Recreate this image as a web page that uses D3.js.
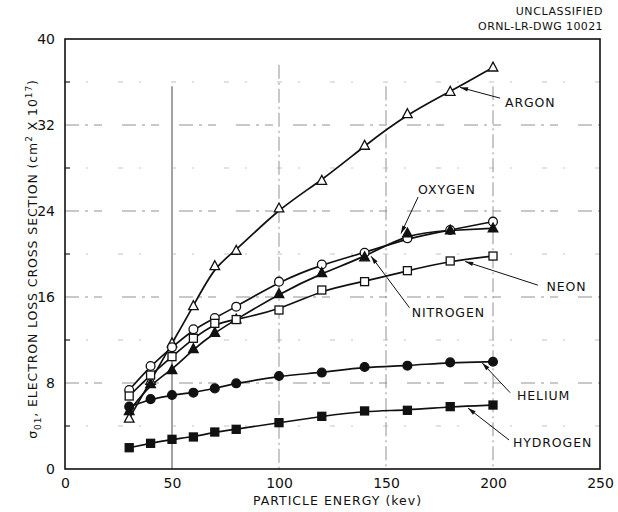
<!DOCTYPE html>
<html>
<head>
<meta charset="utf-8">
<script src="https://cdn.jsdelivr.net/npm/d3@7"></script>
<style>
  html, body { margin: 0; padding: 0; background: #fff; }
  svg { display: block; }
  text { font-family: "DejaVu Sans", sans-serif; fill: #111; }
</style>
</head>
<body>
<svg id="chart" width="618" height="512"></svg>
<script>
// Particle energy (keV) at which each cross section was measured
const energy = [30, 40, 50, 60, 70, 80, 100, 120, 140, 160, 180, 200];

// Electron loss cross sections, cm^2 x 10^17
const argon    = [4.7, 8.2, 11.7, 15.16, 18.88, 20.31, 24.25, 26.82, 30.08, 33.02, 35.1, 37.36];
const oxygen   = [7.35, 9.58, 11.32, 12.99, 14.05, 15.1, 17.43, 19.02, 20.12, 21.46, 22.23, 23.01];
const nitrogen = [5.4, 7.9, 9.21, 11.16, 12.68, 13.92, 16.28, 18.23, 19.7, 21.92, 22.2, 22.39];
const neon     = [6.79, 8.74, 10.45, 12.16, 13.55, 13.9, 14.79, 16.65, 17.43, 18.45, 19.35, 19.81];
const helium   = [5.8, 6.5, 6.88, 7.1, 7.5, 7.97, 8.65, 8.97, 9.49, 9.61, 9.92, 9.98];
const hydrogen = [1.98, 2.39, 2.76, 2.98, 3.44, 3.69, 4.31, 4.9, 5.4, 5.46, 5.8, 5.95];

const seriesNames = ["ARGON", "OXYGEN", "NITROGEN", "NEON", "HELIUM", "HYDROGEN"];
const seriesValues = [argon, oxygen, nitrogen, neon, helium, hydrogen];
const seriesMarkers = ["triangleOpen", "circleOpen", "triangleFilled", "squareOpen", "circleFilled", "squareFilled"];

const xTicks = [0, 50, 100, 150, 200, 250];
const yTicks = [0, 8, 16, 24, 32, 40];

const svg = d3.select("#chart");
const margin = { left: 65, right: 18, top: 39, bottom: 43 };
const W = 618, H = 512;

const x = d3.scaleLinear().domain([0, 250]).range([margin.left, W - margin.right]);
const y = d3.scaleLinear().domain([0, 40]).range([H - margin.bottom, margin.top]);

// Grid: faint, broken dash-dot rulings of the graph paper
const grid = svg.append("g").attr("fill", "none");
[50, 100, 150, 200].forEach(v => {
  grid.append("line")
    .attr("x1", x(v)).attr("x2", x(v))
    .attr("y1", y(v === 100 ? 37.6 : 35.6)).attr("y2", y(0))
    .attr("stroke", v === 50 ? "#444" : "#777")
    .attr("stroke-width", v === 50 ? 1 : 0.8)
    .attr("stroke-dasharray", v === 50 ? null : "14,4,2,4");
});
d3.range(4, 40, 4).forEach(v => {
  const major = v % 8 === 0;
  grid.append("line")
    .attr("x1", x(0)).attr("x2", x(250))
    .attr("y1", y(v)).attr("y2", y(v))
    .attr("stroke-width", major ? 0.8 : 0.7)
    .attr("stroke", major ? "#777" : "#aaa")
    .attr("stroke-dasharray", major ? "14,6,3,6,8,20" : "5,16,2,30");
});

// Frame
svg.append("rect")
  .attr("x", x(0)).attr("y", y(40))
  .attr("width", x(250) - x(0)).attr("height", y(0) - y(40))
  .attr("fill", "none").attr("stroke", "#111").attr("stroke-width", 1.6);

// Axes
const xAxis = svg.append("g")
  .attr("transform", `translate(0,${y(0)})`)
  .call(d3.axisBottom(x).tickValues(xTicks).tickSize(0).tickPadding(9));
const yAxis = svg.append("g")
  .attr("transform", `translate(${x(0)},0)`)
  .call(d3.axisLeft(y).tickValues(yTicks).tickSize(0).tickPadding(10));
[xAxis, yAxis].forEach(a => {
  a.select(".domain").remove();
  a.selectAll("text").attr("font-size", 14).attr("font-family", "DejaVu Sans").attr("fill", "#111");
});

// Minor ticks on the left spine
svg.append("g").selectAll("line").data(d3.range(4, 40, 8)).join("line")
  .attr("x1", x(0)).attr("x2", x(0) + 5)
  .attr("y1", d => y(d)).attr("y2", d => y(d))
  .attr("stroke", "#111").attr("stroke-width", 1);

// Axis titles
svg.append("text")
  .attr("x", (x(0) + x(250)) / 2 + 5).attr("y", 505)
  .attr("text-anchor", "middle").attr("font-size", 12.5).attr("letter-spacing", 1)
  .text("PARTICLE ENERGY (kev)");

const yt = svg.append("text")
  .attr("transform", `translate(37,${(y(0) + y(40)) / 2 + 5}) rotate(-90)`)
  .attr("text-anchor", "middle").attr("font-size", 12.5).attr("letter-spacing", 0.9);
yt.append("tspan").text("σ");
yt.append("tspan").attr("font-size", 9).attr("dy", 4).text("01");
yt.append("tspan").attr("dy", -4).text(", ELECTRON LOSS CROSS SECTION (cm");
yt.append("tspan").attr("font-size", 9).attr("dy", -5).text("2");
yt.append("tspan").attr("dy", 5).text(" X 10");
yt.append("tspan").attr("font-size", 9).attr("dy", -5).text("17");
yt.append("tspan").attr("dy", 5).text(")");

// Header
svg.append("text").attr("x", 603).attr("y", 15).attr("text-anchor", "end")
  .attr("font-size", 11).attr("letter-spacing", 0.6).text("UNCLASSIFIED");
svg.append("text").attr("x", 603).attr("y", 30).attr("text-anchor", "end")
  .attr("font-size", 11).attr("letter-spacing", 0.4).text("ORNL-LR-DWG 10021");

// Smoothed curves through each gas's points
const line = d3.line()
  .x(d => x(d[0])).y(d => y(d[1]))
  .curve(d3.curveBasis);

const curves = svg.append("g").attr("fill", "none").attr("stroke", "#111").attr("stroke-width", 1.7);
seriesValues.forEach(vals => {
  curves.append("path").attr("d", line(energy.map((e, i) => [e, vals[i]])));
});

// Markers
const markers = svg.append("g").attr("stroke", "#111").attr("stroke-width", 1.3);
function drawMarker(g, kind, cx, cy) {
  const filled = kind.endsWith("Filled");
  const fill = filled ? "#111" : "#fff";
  if (kind.startsWith("circle")) {
    g.append("circle").attr("cx", cx).attr("cy", cy).attr("r", 4.4).attr("fill", fill);
  } else if (kind.startsWith("square")) {
    g.append("rect").attr("x", cx - 4).attr("y", cy - 4).attr("width", 8).attr("height", 8).attr("fill", fill);
  } else {
    const s = 4.8;
    g.append("path")
      .attr("d", `M${cx},${cy - s - 0.5}L${cx + s},${cy + s * 0.75}L${cx - s},${cy + s * 0.75}Z`)
      .attr("fill", fill);
  }
}
seriesValues.forEach((vals, si) => {
  vals.forEach((v, i) => drawMarker(markers, seriesMarkers[si], x(energy[i]), y(v)));
});

// Series labels with leader arrows (positions in data units)
const labelPos = [
  { name: "ARGON",    tx: 205.6, ty: 33.7, from: [203.3, 34.5], to: [184.6, 35.5] },
  { name: "OXYGEN",   tx: 165.0, ty: 25.6, from: [165.0, 25.3], to: [157.0, 21.9] },
  { name: "NITROGEN", tx: 162.0, ty: 14.1, from: [161.0, 15.0], to: [143.0, 19.8] },
  { name: "NEON",     tx: 225.0, ty: 16.6, from: [221.0, 17.1], to: [187.0, 19.3] },
  { name: "HELIUM",   tx: 211.2, ty: 6.4,  from: [208.0, 7.1],  to: [195.0, 9.86] },
  { name: "HYDROGEN", tx: 209.3, ty: 2.05, from: [207.5, 2.7],  to: [188.3, 5.67] }
];
const ann = svg.append("g");
labelPos.forEach(l => {
  ann.append("text").attr("x", x(l.tx)).attr("y", y(l.ty))
    .attr("font-size", 12.5).attr("letter-spacing", 0.9).text(l.name);
  const x1 = x(l.from[0]), y1 = y(l.from[1]), x2 = x(l.to[0]), y2 = y(l.to[1]);
  ann.append("line").attr("x1", x1).attr("y1", y1).attr("x2", x2).attr("y2", y2)
    .attr("stroke", "#111").attr("stroke-width", 1);
  const ang = Math.atan2(y2 - y1, x2 - x1);
  const len = 8, half = 2.2;
  const bx = x2 - len * Math.cos(ang), by = y2 - len * Math.sin(ang);
  const px = -Math.sin(ang) * half, py = Math.cos(ang) * half;
  ann.append("path")
    .attr("d", `M${x2},${y2}L${bx + px},${by + py}L${bx - px},${by - py}Z`)
    .attr("fill", "#111");
});
</script>
</body>
</html>
